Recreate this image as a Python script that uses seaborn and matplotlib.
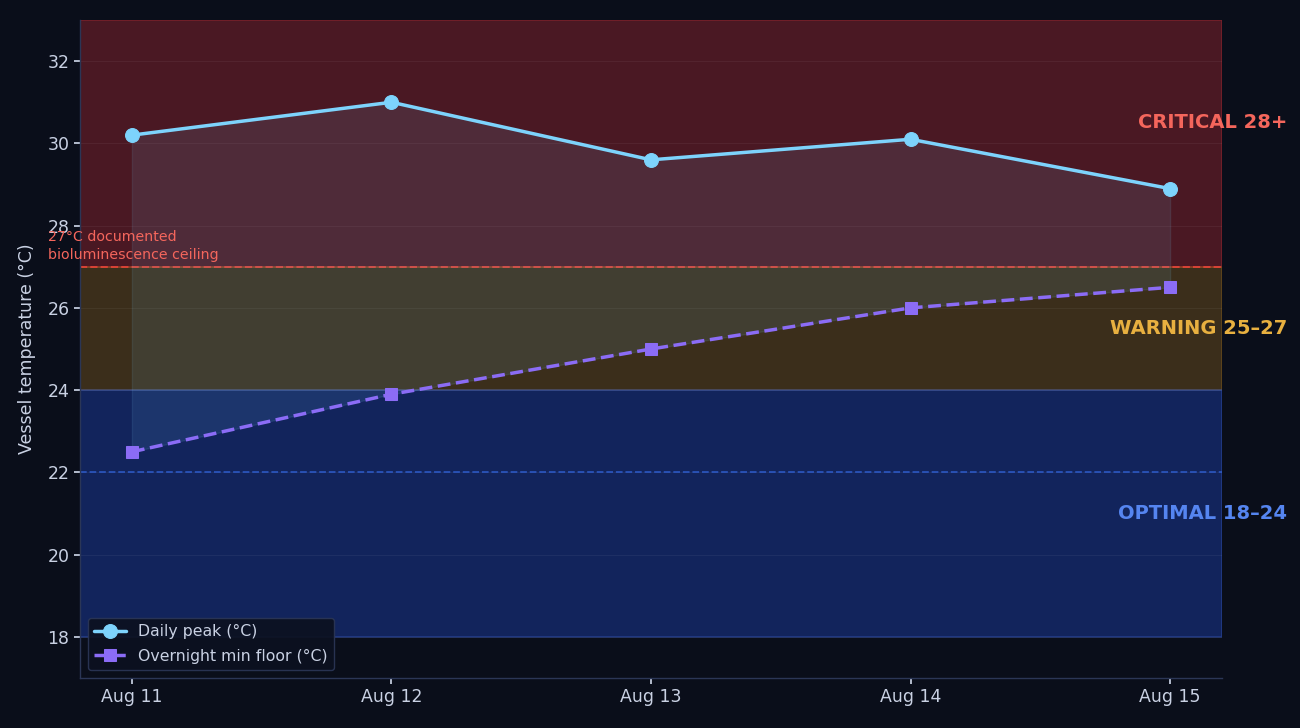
import numpy as np
import pandas as pd
import matplotlib
matplotlib.use("Agg")
import matplotlib.pyplot as plt
import seaborn as sns

days = ["Aug 11", "Aug 12", "Aug 13", "Aug 14", "Aug 15"]
daily_peak = [30.2, 31.0, 29.6, 30.1, 28.9]
overnight_min = [22.5, 23.9, 25.0, 26.0, 26.5]
y_ticks = [18, 20, 22, 24, 26, 28, 30, 32]

BG = "#0a0e1a"
TXT = "#c9d1e3"
SPINE = "#2b3656"

sns.set_theme(style="dark")
plt.rcParams['font.family'] = ['DejaVu Sans']

fig = plt.figure(figsize=(13, 7.28), dpi=100, facecolor=BG)
ax = fig.add_axes([80/1300, 1-678/728, (1222-80)/1300, (678-20)/728])
ax.set_facecolor(BG)

x = np.arange(len(days))
df = pd.DataFrame({"x": x, "peak": daily_peak, "min": overnight_min})

# zone bands
ax.axhspan(27, 33, facecolor="#e0303a", alpha=0.30, edgecolor="#e0303a", lw=1.2, zorder=0)
ax.axhspan(24, 27, facecolor="#eaa020", alpha=0.22, edgecolor="#eaa020", lw=1.2, zorder=0)
ax.axhspan(18, 24, facecolor="#1a3a9a", alpha=0.52, edgecolor="#3050b0", lw=1.2, zorder=0)

ax.grid(axis="y", color="#ffffff", alpha=0.05, lw=0.8)
ax.grid(axis="x", visible=False)
ax.set_axisbelow(True)

# reference lines
ax.axhline(27, color="#e8443a", ls="--", lw=1.4, alpha=0.85, zorder=1)
ax.axhline(22, color="#2f5fd0", ls="--", lw=1.3, alpha=0.8, zorder=1)

ax.fill_between(df["x"], df["min"], df["peak"], color="#7dd3fc", alpha=0.1, zorder=2)

sns.lineplot(data=df, x="x", y="peak", ax=ax, color="#7dd3fc", lw=2.5, marker="o",
             markersize=10, markeredgecolor="#7dd3fc", label="Daily peak (°C)", zorder=4)
sns.lineplot(data=df, x="x", y="min", ax=ax, color="#8b6cf6", lw=2.5, marker="s",
             markersize=9, markeredgecolor="#8b6cf6", linestyle="--",
             label="Overnight min floor (°C)", zorder=4)

ax.set_xlim(-0.2, 4.2)
ax.set_ylim(17, 33)
ax.set_xticks(x)
ax.set_xticklabels(days)
ax.set_yticks(y_ticks)
ax.tick_params(colors=TXT, labelsize=12.5, length=4, color=TXT, left=True, bottom=True)
ax.set_xlabel("")
ax.set_ylabel("Vessel temperature (°C)", color=TXT, fontsize=12.5, labelpad=8)

for s in ["top", "right"]:
    ax.spines[s].set_visible(False)
for s in ["left", "bottom"]:
    ax.spines[s].set_color(SPINE)
    ax.spines[s].set_linewidth(1)

# zone labels
ax.text(1.057, 30.5, "CRITICAL 28+", transform=ax.get_yaxis_transform(), ha="right", va="center",
        color="#f4665c", fontsize=14, fontweight="bold")
ax.text(1.057, 25.5, "WARNING 25–27", transform=ax.get_yaxis_transform(), ha="right", va="center",
        color="#e8b040", fontsize=14, fontweight="bold")
ax.text(1.057, 21.0, "OPTIMAL 18–24", transform=ax.get_yaxis_transform(), ha="right", va="center",
        color="#5585f0", fontsize=14, fontweight="bold")

ax.text(-0.325, 27.12, "27°C documented\nbioluminescence ceiling", ha="left", va="bottom",
        color="#f4665c", fontsize=10.2, linespacing=1.35)

leg = ax.legend(loc="lower left", fontsize=11.3, facecolor="#0c1120", edgecolor=SPINE,
                framealpha=0.92, borderaxespad=0.5, labelspacing=0.6)
for t in leg.get_texts():
    t.set_color(TXT)

fig.savefig("out.png", dpi=100, facecolor=BG)
